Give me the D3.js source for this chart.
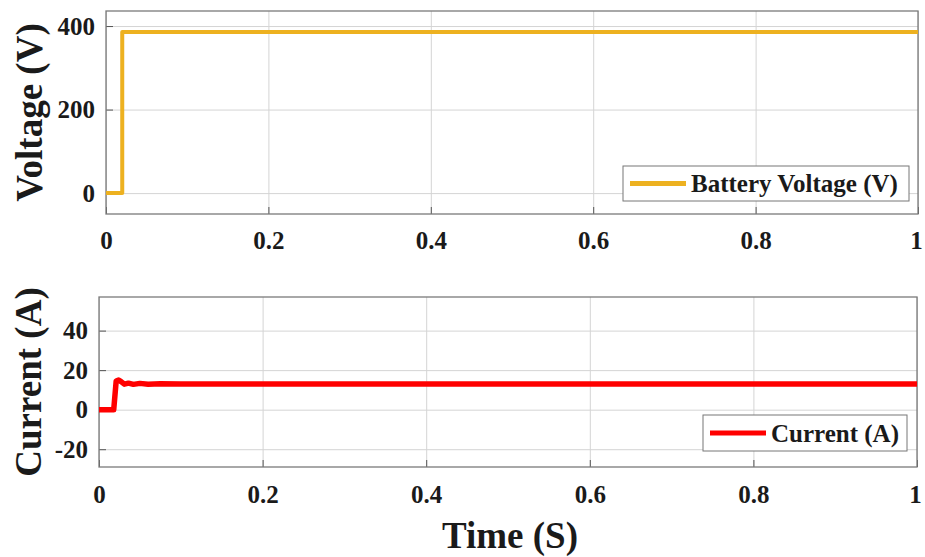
<!DOCTYPE html>
<html><head><meta charset="utf-8">
<script src="https://cdn.jsdelivr.net/npm/d3@7"></script>
<style>body{margin:0;background:#fff}svg{display:block}text{font-family:"Liberation Serif","Times New Roman",serif;font-weight:bold;fill:#1a1a1a}</style>
</head><body><svg id="c" width="925" height="557"></svg>
<script>
const timeV = [0, 0.02, 0.02, 1];
const voltage = [0, 0, 386, 386];
const timeI = [0, 0.018, 0.021, 0.024, 0.027, 0.031, 0.036, 0.042, 0.05, 0.06, 0.075, 0.1, 1];
const current = [0, 0, 14.5, 15, 14.2, 12.9, 13.4, 12.8, 13.3, 12.9, 13.1, 13, 13];
const xTicks = [0, 0.2, 0.4, 0.6, 0.8, 1];
const xTickLabels = ["0", "0.2", "0.4", "0.6", "0.8", "1"];
const vTicks = [0, 200, 400];
const vTickLabels = ["0", "200", "400"];
const iTicks = [-20, 0, 20, 40];
const iTickLabels = ["-20", "0", "20", "40"];

const svg = d3.select("#c");
const grid = "#d4d4d4", frame = "#7a7a7a";

function panel(o) {
  const x = d3.scaleLinear().domain([0, 1]).range([o.left, o.right]);
  const y = d3.scaleLinear().domain(o.ydom).range([o.bottom, o.top]);
  const g = svg.append("g");
  g.append("rect").attr("x", o.left).attr("y", o.top).attr("width", o.right - o.left).attr("height", o.bottom - o.top).attr("fill", "#fff");
  g.append("g").attr("transform", `translate(0,${o.bottom})`)
    .call(d3.axisBottom(x).tickValues(xTicks).tickSize(-(o.bottom - o.top)).tickFormat(""))
    .call(s => s.select(".domain").remove())
    .call(s => s.selectAll("line").attr("stroke", grid));
  g.append("g").attr("transform", `translate(${o.left},0)`)
    .call(d3.axisLeft(y).tickValues(o.yticks).tickSize(-(o.right - o.left)).tickFormat(""))
    .call(s => s.select(".domain").remove())
    .call(s => s.selectAll("line").attr("stroke", grid));
  const ax = g.append("g").attr("transform", `translate(0,${o.bottom})`)
    .call(d3.axisBottom(x).tickValues(xTicks).tickSize(-7).tickPadding(o.xpad).tickFormat((d, i) => xTickLabels[i]));
  ax.select(".domain").remove();
  ax.selectAll("line").attr("stroke", "#555");
  ax.selectAll("text").style("font-size", "25px").attr("fill", "#1a1a1a")
    .attr("dx", d => d === 1 ? -2 : 0);
  const ay = g.append("g").attr("transform", `translate(${o.left},0)`)
    .call(d3.axisLeft(y).tickValues(o.yticks).tickSize(-7).tickPadding(11).tickFormat((d, i) => o.ylabels[i]));
  ay.select(".domain").remove();
  ay.selectAll("line").attr("stroke", "#555");
  ay.selectAll("text").style("font-size", "25px").attr("fill", "#1a1a1a");
  g.append("rect").attr("x", o.left).attr("y", o.top).attr("width", o.right - o.left).attr("height", o.bottom - o.top)
    .attr("fill", "none").attr("stroke", frame).attr("stroke-width", 1.3);
  const line = d3.line().x(d => x(d[0])).y(d => y(d[1]));
  g.append("path").datum(o.t.map((t, i) => [t, o.v[i]])).attr("d", line)
    .attr("fill", "none").attr("stroke", o.color).attr("stroke-width", o.lw).attr("stroke-linejoin", "round");
  const L = o.legend;
  g.append("rect").attr("x", L.x).attr("y", L.y).attr("width", L.w).attr("height", L.h)
    .attr("fill", "#fff").attr("stroke", "#777").attr("stroke-width", 1);
  g.append("line").attr("x1", L.x + 7).attr("x2", L.x + 63).attr("y1", L.y + L.h / 2).attr("y2", L.y + L.h / 2)
    .attr("stroke", o.color).attr("stroke-width", 5);
  g.append("text").attr("x", L.x + 68).attr("y", L.y + L.h / 2).attr("dy", "0.35em").style("font-size", "25px").text(L.label);
  svg.append("text").attr("transform", `translate(${o.titleX},${(o.top + o.bottom) / 2}) rotate(-90)`)
    .attr("text-anchor", "middle").style("font-size", "37px").text(o.title);
}

panel({left: 106, right: 918, top: 11, bottom: 214, ydom: [-50, 436], yticks: vTicks, ylabels: vTickLabels, xpad: 17,
  t: timeV, v: voltage, color: "#EDB120", lw: 4,
  legend: {x: 623, y: 166, w: 286, h: 35, label: "Battery Voltage (V)"},
  title: "Voltage (V)", titleX: 42});
panel({left: 99, right: 917, top: 297, bottom: 467, ydom: [-29, 57], yticks: iTicks, ylabels: iTickLabels, xpad: 18,
  t: timeI, v: current, color: "#FF0000", lw: 5.5,
  legend: {x: 703, y: 415, w: 204, h: 36, label: "Current (A)"},
  title: "Current (A)", titleX: 41});

svg.append("text").attr("x", 510).attr("y", 548).attr("text-anchor", "middle").style("font-size", "37px").text("Time (S)");
</script></body></html>
